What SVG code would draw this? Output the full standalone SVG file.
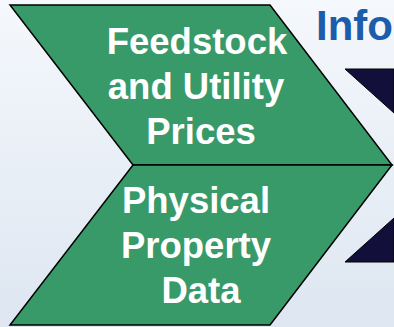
<svg xmlns="http://www.w3.org/2000/svg" width="394" height="327" viewBox="0 0 394 327">
  <defs>
    <linearGradient id="bg" x1="0" y1="0" x2="0" y2="1">
      <stop offset="0" stop-color="#f5f8fc"/>
      <stop offset="1" stop-color="#dde6f1"/>
    </linearGradient>
    <style>
      .chev { fill: #379a68; stroke: #000; stroke-width: 1.5; stroke-linejoin: miter; }
      .dark { fill: #12103a; stroke: #000; stroke-width: 1; }
      .lbl { font-family: "Liberation Sans", Arial, sans-serif; font-weight: bold; font-size: 36.5px; fill: #ffffff; text-anchor: middle; }
      .title { font-family: "Liberation Sans", Arial, sans-serif; font-weight: bold; font-size: 42px; fill: #1c5cab; }
    </style>
  </defs>
  <rect x="0" y="0" width="394" height="327" fill="url(#bg)"/>
  <text class="title" x="316" y="40">Info</text>
  <g id="arrow-top">
    <polygon class="dark" points="345,69 394,69 394,113"/>
  </g>
  <g id="arrow-bottom">
    <polygon class="dark" points="345,262 394,262 394,218"/>
  </g>
  <g id="node-feedstock">
    <polygon class="chev" points="10,5 270,5 392,165 133,165"/>
    <text class="lbl" x="197" y="54">Feedstock</text>
    <text class="lbl" x="196" y="99">and Utility</text>
    <text class="lbl" x="201" y="144">Prices</text>
  </g>
  <g id="node-physical">
    <polygon class="chev" points="133,165 392,165 270,325 10,325"/>
    <text class="lbl" x="196" y="213">Physical</text>
    <text class="lbl" x="196" y="258">Property</text>
    <text class="lbl" x="201" y="303">Data</text>
  </g>
  <g id="connectors"/>
</svg>
